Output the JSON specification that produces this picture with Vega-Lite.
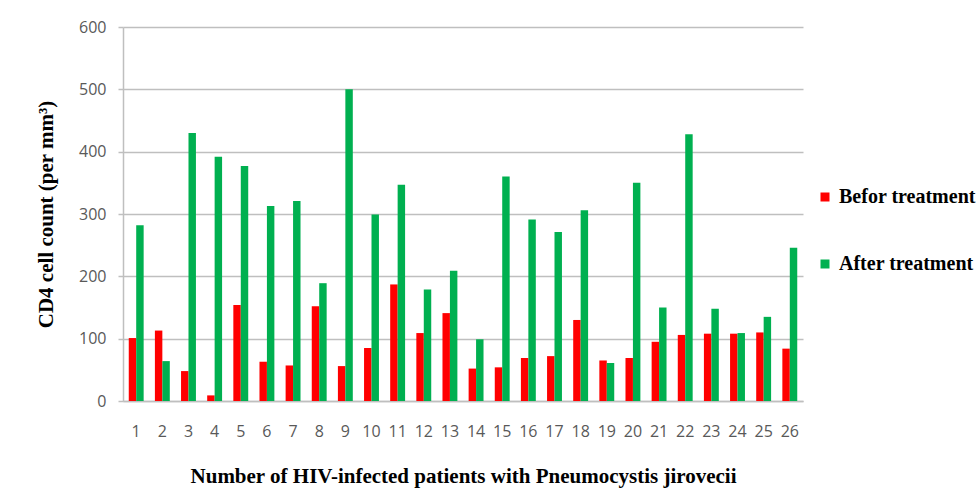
{
  "$schema": "https://vega.github.io/schema/vega-lite/v6.json",
  "width": 680,
  "height": 374,
  "autosize": {"type": "none"},
  "padding": {"left": 123, "top": 27, "right": 174, "bottom": 90},
  "background": "white",
  "config": {"view": {"stroke": null}},
  "data": {"values": [
    {"patient": 1, "group": "Befor treatment", "count": 101}, {"patient": 1, "group": "After treatment", "count": 282},
    {"patient": 2, "group": "Befor treatment", "count": 113}, {"patient": 2, "group": "After treatment", "count": 64},
    {"patient": 3, "group": "Befor treatment", "count": 48}, {"patient": 3, "group": "After treatment", "count": 430},
    {"patient": 4, "group": "Befor treatment", "count": 9}, {"patient": 4, "group": "After treatment", "count": 392},
    {"patient": 5, "group": "Befor treatment", "count": 154}, {"patient": 5, "group": "After treatment", "count": 377},
    {"patient": 6, "group": "Befor treatment", "count": 63}, {"patient": 6, "group": "After treatment", "count": 313},
    {"patient": 7, "group": "Befor treatment", "count": 57}, {"patient": 7, "group": "After treatment", "count": 321},
    {"patient": 8, "group": "Befor treatment", "count": 152}, {"patient": 8, "group": "After treatment", "count": 189},
    {"patient": 9, "group": "Befor treatment", "count": 56}, {"patient": 9, "group": "After treatment", "count": 500},
    {"patient": 10, "group": "Befor treatment", "count": 85}, {"patient": 10, "group": "After treatment", "count": 299},
    {"patient": 11, "group": "Befor treatment", "count": 187}, {"patient": 11, "group": "After treatment", "count": 347},
    {"patient": 12, "group": "Befor treatment", "count": 109}, {"patient": 12, "group": "After treatment", "count": 179},
    {"patient": 13, "group": "Befor treatment", "count": 141}, {"patient": 13, "group": "After treatment", "count": 209},
    {"patient": 14, "group": "Befor treatment", "count": 52}, {"patient": 14, "group": "After treatment", "count": 99},
    {"patient": 15, "group": "Befor treatment", "count": 54}, {"patient": 15, "group": "After treatment", "count": 360},
    {"patient": 16, "group": "Befor treatment", "count": 69}, {"patient": 16, "group": "After treatment", "count": 291},
    {"patient": 17, "group": "Befor treatment", "count": 72}, {"patient": 17, "group": "After treatment", "count": 271},
    {"patient": 18, "group": "Befor treatment", "count": 130}, {"patient": 18, "group": "After treatment", "count": 306},
    {"patient": 19, "group": "Befor treatment", "count": 65}, {"patient": 19, "group": "After treatment", "count": 61},
    {"patient": 20, "group": "Befor treatment", "count": 69}, {"patient": 20, "group": "After treatment", "count": 350},
    {"patient": 21, "group": "Befor treatment", "count": 95}, {"patient": 21, "group": "After treatment", "count": 150},
    {"patient": 22, "group": "Befor treatment", "count": 106}, {"patient": 22, "group": "After treatment", "count": 428},
    {"patient": 23, "group": "Befor treatment", "count": 108}, {"patient": 23, "group": "After treatment", "count": 148},
    {"patient": 24, "group": "Befor treatment", "count": 108}, {"patient": 24, "group": "After treatment", "count": 109},
    {"patient": 25, "group": "Befor treatment", "count": 110}, {"patient": 25, "group": "After treatment", "count": 135},
    {"patient": 26, "group": "Befor treatment", "count": 84}, {"patient": 26, "group": "After treatment", "count": 246}
  ]},
  "mark": {"type": "bar"},
  "encoding": {
    "x": {
      "field": "patient", "type": "ordinal",
      "scale": {"paddingInner": 0.43, "paddingOuter": 0.22},
      "axis": {
        "title": "Number of HIV-infected patients with Pneumocystis jirovecii",
        "titleFont": "Liberation Serif", "titleFontSize": 21, "titleFontWeight": "bold", "titleColor": "#000000",
        "titlePadding": 26,
        "labelAngle": 0, "labelFont": "Open Sans", "labelFontSize": 16, "labelColor": "#595959",
        "labelPadding": 22, "ticks": false,
        "domain": true, "domainColor": "#bfbfbf", "domainWidth": 1.5
      }
    },
    "xOffset": {"field": "group", "sort": ["Befor treatment", "After treatment"]},
    "y": {
      "field": "count", "type": "quantitative",
      "scale": {"domain": [0, 600]},
      "axis": {
        "title": "CD4 cell count (per mm³)",
        "titleFont": "Liberation Serif", "titleFontSize": 21, "titleFontWeight": "bold", "titleColor": "#000000",
        "titlePadding": 22,
        "values": [0, 100, 200, 300, 400, 500, 600],
        "labelFont": "Open Sans", "labelFontSize": 16, "labelColor": "#595959", "labelPadding": 12,
        "grid": true, "gridColor": "#bfbfbf", "gridWidth": 1.5,
        "ticks": true, "tickColor": "#bfbfbf", "tickSize": 5, "tickWidth": 1.5,
        "domain": true, "domainColor": "#bfbfbf", "domainWidth": 1.5
      }
    },
    "color": {
      "field": "group", "type": "nominal",
      "scale": {"domain": ["Befor treatment", "After treatment"], "range": ["#ff0000", "#00b050"]},
      "legend": {
        "title": null, "orient": "none", "legendX": 692, "legendY": 160,
        "symbolType": "square", "symbolSize": 81, "symbolStrokeWidth": 0,
        "labelFont": "Liberation Serif", "labelFontSize": 20, "labelFontWeight": "bold", "labelColor": "#000000",
        "rowPadding": 47, "labelOffset": 4, "labelLimit": 300
      }
    }
  }
}
